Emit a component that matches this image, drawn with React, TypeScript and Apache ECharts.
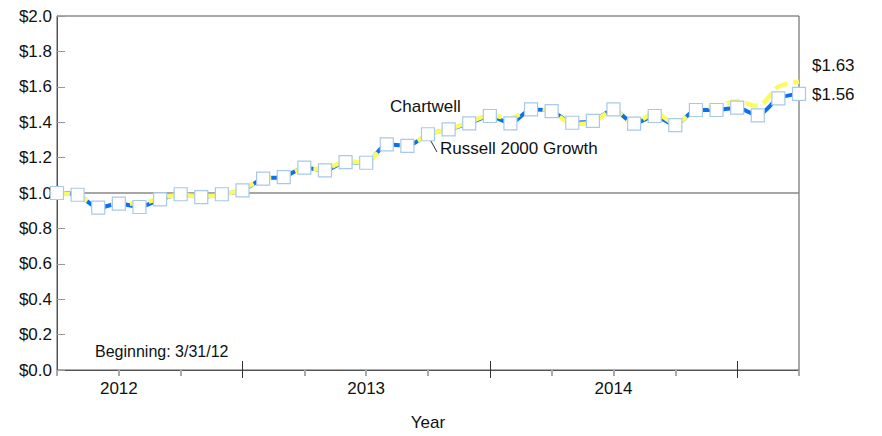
import React, { useEffect, useRef } from "react";
import * as echarts from "echarts";

const months: string[] = [
  "2012-03", "2012-04", "2012-05", "2012-06", "2012-07", "2012-08", "2012-09", "2012-10", "2012-11", "2012-12",
  "2013-01", "2013-02", "2013-03", "2013-04", "2013-05", "2013-06", "2013-07", "2013-08", "2013-09", "2013-10",
  "2013-11", "2013-12", "2014-01", "2014-02", "2014-03", "2014-04", "2014-05", "2014-06", "2014-07", "2014-08",
  "2014-09", "2014-10", "2014-11", "2014-12", "2015-01", "2015-02", "2015-03",
];

const russell: number[] = [
  1.0, 0.99, 0.917, 0.94, 0.921, 0.964, 0.993, 0.977, 0.993, 1.015,
  1.081, 1.09, 1.143, 1.128, 1.175, 1.171, 1.275, 1.266, 1.332, 1.359,
  1.393, 1.435, 1.393, 1.472, 1.463, 1.397, 1.407, 1.472, 1.392, 1.435,
  1.384, 1.469, 1.469, 1.482, 1.439, 1.535, 1.56,
];

const chartwell: number[] = [
  1.0, 0.985, 0.925, 0.94, 0.94, 0.97, 0.99, 0.98, 0.99, 1.02,
  1.08, 1.09, 1.14, 1.135, 1.18, 1.17, 1.27, 1.27, 1.33, 1.36,
  1.4, 1.44, 1.42, 1.48, 1.46, 1.39, 1.4, 1.47, 1.39, 1.455,
  1.39, 1.475, 1.49, 1.52, 1.49, 1.6, 1.63,
];

const yTicks = { min: 0, max: 2, interval: 0.2 };

const FONT = "Liberation Sans, Arial, sans-serif";
const TXT = "#111";

export default function App() {
  const ref = useRef<HTMLDivElement>(null);
  useEffect(() => {
    if (!ref.current) return;
    const chart = echarts.init(ref.current, undefined, { renderer: "svg" });
    const baseX = {
      type: "category" as const,
      data: months,
      boundaryGap: false,
      position: "bottom" as const,
    };
    chart.setOption({
      animation: false,
      textStyle: { fontFamily: FONT },
      grid: {
        left: 57,
        right: 83,
        top: 16,
        bottom: 66,
        show: true,
        borderColor: "#555",
        borderWidth: 1,
      },
      xAxis: [
        {
          ...baseX,
          name: "Year",
          nameLocation: "middle",
          nameGap: 44,
          nameTextStyle: { fontSize: 17, color: TXT, fontFamily: FONT },
          axisLine: { show: true, lineStyle: { color: "#555", width: 1 } },
          axisTick: {
            show: true,
            length: 6,
            interval: (i: number) => i % 3 === 0 && i % 12 !== 9,
            lineStyle: { color: "#aaa", width: 2 },
          },
          axisLabel: {
            show: true,
            interval: (i: number) => i % 12 === 3,
            formatter: (v: string) => v.slice(0, 4),
            fontSize: 17,
            color: TXT,
            margin: 10,
            fontFamily: FONT,
          },
          splitLine: { show: false },
        },
        {
          ...baseX,
          axisLine: { show: false },
          axisLabel: { show: false },
          axisTick: {
            show: true,
            length: 8,
            interval: (i: number) => i % 12 === 9,
            lineStyle: { color: "#333", width: 1 },
          },
          splitLine: { show: false },
        },
        {
          ...baseX,
          axisLine: { show: false },
          axisLabel: { show: false },
          axisTick: {
            show: true,
            inside: true,
            length: 9,
            interval: (i: number) => i % 12 === 9,
            lineStyle: { color: "#333", width: 1 },
          },
          splitLine: { show: false },
        },
      ],
      yAxis: {
        type: "value",
        min: yTicks.min,
        max: yTicks.max,
        interval: yTicks.interval,
        axisLine: { show: true, lineStyle: { color: "#555", width: 1 } },
        axisTick: { show: true, inside: true, length: 8, lineStyle: { color: "#999", width: 1 } },
        axisLabel: {
          formatter: (v: number) => "$" + v.toFixed(1),
          fontSize: 17,
          color: TXT,
          margin: 5,
          fontFamily: FONT,
        },
        splitLine: { show: false },
      },
      series: [
        {
          name: "Russell 2000 Growth",
          type: "line",
          data: russell,
          smooth: 0.25,
          showSymbol: false,
          z: 2,
          lineStyle: { color: "#0a6ff0", width: 4 },
          endLabel: {
            show: true,
            formatter: (p: any) => "$" + Number(p.value).toFixed(2),
            fontSize: 17,
            color: TXT,
            distance: 13,
            offset: [0, 1],
            fontFamily: FONT,
          },
          markLine: {
            silent: true,
            symbol: "none",
            label: { show: false },
            lineStyle: { color: "#888", type: "solid", width: 1.5 },
            data: [{ yAxis: 1 }],
            z: 1,
          },
        },
        {
          name: "Chartwell",
          type: "line",
          data: chartwell,
          smooth: 0.25,
          showSymbol: false,
          z: 3,
          lineStyle: { color: "#fbfb5e", width: 4.5, type: [13, 6] },
          endLabel: {
            show: true,
            formatter: (p: any) => "$" + Number(p.value).toFixed(2),
            fontSize: 17,
            color: TXT,
            distance: 13,
            offset: [0, -16],
            fontFamily: FONT,
          },
        },
        {
          name: "markers",
          type: "scatter",
          data: russell,
          symbol: "rect",
          symbolSize: 13,
          z: 4,
          itemStyle: { color: "#ffffff", opacity: 1, borderColor: "#a9c9e8", borderWidth: 1.2 },
        },
      ],
      graphic: [
        {
          type: "text",
          left: 390,
          top: 98,
          style: { text: "Chartwell", font: `17px ${FONT}`, fill: TXT },
        },
        {
          type: "text",
          left: 440,
          top: 140,
          style: { text: "Russell 2000 Growth", font: `17px ${FONT}`, fill: TXT },
        },
        {
          type: "line",
          shape: { x1: 427, y1: 134, x2: 437, y2: 152 },
          style: { stroke: "#333", lineWidth: 1 },
        },
        {
          type: "text",
          left: 95,
          top: 343,
          style: { text: "Beginning: 3/31/12", font: `16px ${FONT}`, fill: TXT },
        },
      ],
    });
    return () => chart.dispose();
  }, []);
  return (
    <div
      ref={ref}
      style={{ position: "fixed", left: 0, top: 0, width: 882, height: 436, background: "#fff" }}
    />
  );
}
